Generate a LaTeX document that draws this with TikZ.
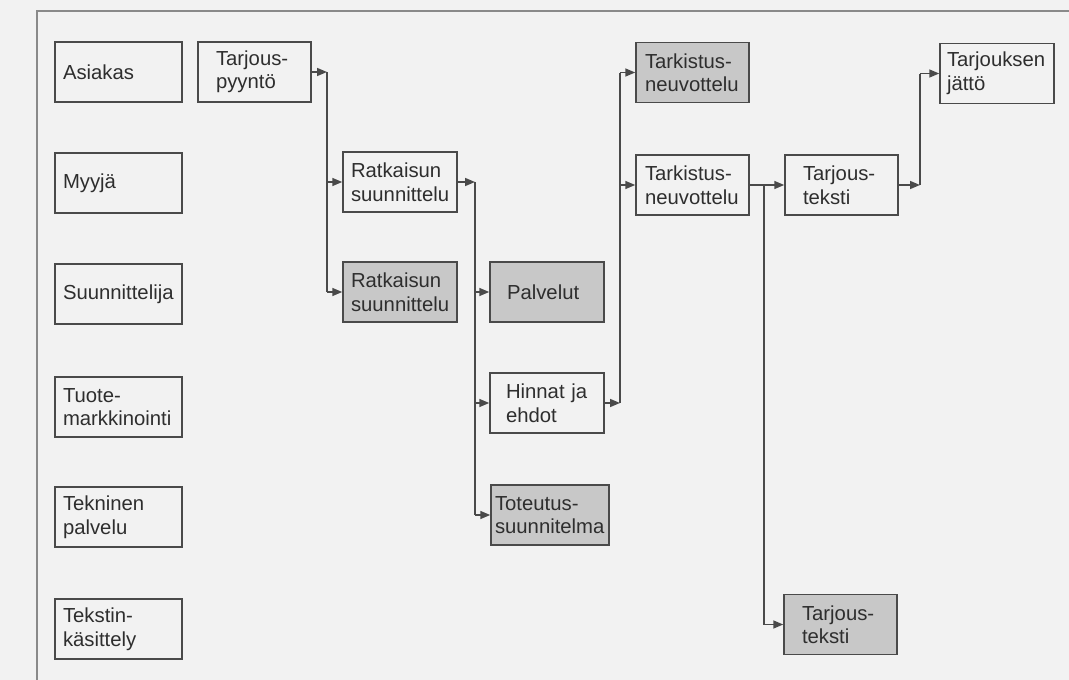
\documentclass[tikz,border=0pt]{standalone}
\usepackage{fontspec}
\setmainfont{Liberation Sans}
\usetikzlibrary{arrows.meta}
\definecolor{bg}{HTML}{F2F2F2}
\definecolor{ln}{HTML}{4A4A4A}
\definecolor{fr}{HTML}{8A8A8A}
\definecolor{gf}{HTML}{C8C8C8}
\definecolor{tx}{HTML}{2E2E2E}
\begin{document}
\begin{tikzpicture}[x=1pt,y=-1pt,
  box/.style={draw=ln, line width=1.5pt, minimum height=60pt, align=left, text=tx,
    font=\fontsize{20.3}{23.5}\selectfont, inner ysep=0pt},
  greybox/.style={box, fill=gf},
  conn/.style={draw=ln, line width=1.5pt, line join=miter},
  arr/.style={conn, -{Triangle[length=10pt,width=8pt]}}]
\useasboundingbox (0,0) rectangle (1069,680);
\fill[bg] (0,0) rectangle (1069,680);
\draw[fr, line width=1.5pt] (1069,11) -- (37,11) -- (37,680);

% left column
\node[box, text width=111pt, inner xsep=8pt] (asi) at (118.5,72) {Asiakas};
\node[box, text width=111pt, inner xsep=8pt] (myy) at (118.5,183) {Myyjä};
\node[box, text width=111pt, inner xsep=8pt] (suu) at (118.5,294) {Suunnittelija};
\node[box, text width=111pt, inner xsep=8pt] (tuo) at (118.5,407) {Tuote-\\markkinointi};
\node[box, text width=111pt, inner xsep=8pt] (tek) at (118.5,517) {Tekninen\\palvelu};
\node[box, text width=111pt, inner xsep=8pt] (tks) at (118.5,629) {Tekstin-\\käsittely};

% flow
\node[box, text width=77pt, inner xsep=18pt] (tp) at (254.5,72) {Tarjous-\\pyyntö};
\node[box, text width=98pt, inner xsep=8pt] (rs1) at (400,182) {Ratkaisun\\suunnittelu};
\node[greybox, text width=98pt, inner xsep=8pt] (rs2) at (400,292) {Ratkaisun\\suunnittelu};
\node[greybox, text width=80pt, inner xsep=17pt] (pal) at (547,292) {Palvelut};
\node[box, text width=82pt, inner xsep=16pt] (hin) at (547,403) {Hinnat ja\\ehdot};
\node[greybox, text width=110pt, inner xsep=4pt] (tot) at (550,515) {Toteutus-\\suunnitelma};
\node[greybox, text width=95pt, inner xsep=9pt] (tk1) at (692.5,72.5) {Tarkistus-\\neuvottelu};
\node[box, text width=95pt, inner xsep=9pt] (tk2) at (692.5,185) {Tarkistus-\\neuvottelu};
\node[box, text width=77pt, inner xsep=18pt] (tt1) at (841.5,185) {Tarjous-\\teksti};
\node[box, text width=100pt, inner xsep=7pt] (tj) at (997,73.5) {Tarjouksen\\jättö};
\node[greybox, text width=77pt, inner xsep=18pt] (tt2) at (840.5,624.5) {Tarjous-\\teksti};

% bus positions
\coordinate (b1) at (327,0);
\coordinate (b2) at (475,0);
\coordinate (b3) at (620,0);
\coordinate (b4) at (764,0);
\coordinate (b5) at (920,0);

\draw[arr] (tp.east) -- (b1 |- tp.east);
\draw[conn] (b1 |- tp.east) -- (b1 |- rs2.west);
\draw[arr] (b1 |- rs1.west) -- (rs1.west);
\draw[arr] (b1 |- rs2.west) -- (rs2.west);

\draw[arr] (rs1.east) -- (b2 |- rs1.east);
\draw[conn] (b2 |- rs1.east) -- (b2 |- tot.west);
\draw[arr] (b2 |- pal.west) -- (pal.west);
\draw[arr] (b2 |- hin.west) -- (hin.west);
\draw[arr] (b2 |- tot.west) -- (tot.west);

\draw[arr] (hin.east) -- (b3 |- hin.east);
\draw[conn] (b3 |- hin.east) -- (b3 |- tk1.west);
\draw[arr] (b3 |- tk1.west) -- (tk1.west);
\draw[arr] (b3 |- tk2.west) -- (tk2.west);

\draw[arr] (tk2.east) -- (tt1.west);
\draw[conn] (b4 |- tk2.east) -- (b4 |- tt2.west);
\draw[arr] (b4 |- tt2.west) -- (tt2.west);

\draw[arr] (tt1.east) -- (b5 |- tt1.east);
\draw[conn] (b5 |- tt1.east) -- (b5 |- tj.west);
\draw[arr] (b5 |- tj.west) -- (tj.west);
\end{tikzpicture}
\end{document}
